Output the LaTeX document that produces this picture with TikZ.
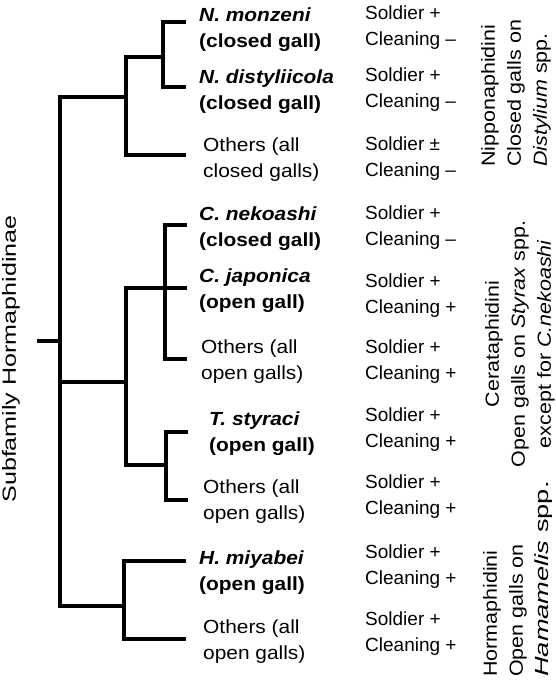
\documentclass[tikz,border=0pt]{standalone}
\usepackage{fontspec}
\usepackage{graphicx}
\setmainfont{Liberation Sans}
\newfontfamily\taxonfont{Liberation Sans}[FakeStretch=1.1]
\newfontfamily\tribefont{Liberation Sans}[FakeStretch=1.13]
\newfontfamily\familyfont{Liberation Sans}[FakeStretch=1.32]

\begin{document}
\begin{tikzpicture}[x=1pt, y=-1pt,
    branch/.style={line width=4pt, line join=miter},
    taxon/.style={anchor=west, align=left, inner sep=0pt,
                  font=\taxonfont\fontsize{19}{26}\selectfont},
    trait/.style={anchor=west, align=left, inner sep=0pt,
                  font=\fontsize{19}{26}\selectfont},
    tribe/.style={rotate=90, inner sep=0pt,
                  font=\tribefont\fontsize{19}{26}\selectfont}]
  \useasboundingbox (0,0) rectangle (556,685);

  % subfamily label
  \node[rotate=90, inner sep=0pt, font=\familyfont\fontsize{19}{26}\selectfont]
    (fam) at (11,359) {Subfamily Hormaphidinae};

  % taxa
  \node[taxon] (mon) at (199,30) {\textbf{\textit{N. monzeni}}\\\textbf{(closed gall)}};
  \node[taxon] (dis) at (199,92) {\textbf{\textit{N. distyliicola}}\\\textbf{(closed gall)}};
  \node[taxon] (oth1) at (203,160) {Others (all\\closed galls)};
  \node[taxon] (nek) at (199,229) {\textbf{\textit{C. nekoashi}}\\\textbf{(closed gall)}};
  \node[taxon] (jap) at (199,291) {\textbf{\textit{C. japonica}}\\\textbf{(open gall)}};
  \node[taxon] (oth2) at (201,362) {Others (all\\open galls)};
  \node[taxon] (sty) at (209,434) {\textbf{\textit{T. styraci}}\\\textbf{(open gall)}};
  \node[taxon] (oth3) at (203,502) {Others (all\\open galls)};
  \node[taxon] (miy) at (199,573) {\textbf{\textit{H. miyabei}}\\\textbf{(open gall)}};
  \node[taxon] (oth4) at (203,642) {Others (all\\open galls)};

  % soldier and cleaning states
  \foreach \y/\s/\c [count=\i] in {28/+/–, 90/+/–, 159/±/–, 228/+/–, 296/+/+,
                                   362/+/+, 430/+/+, 497/+/+, 567/+/+, 634/+/+}
    \node[trait] (tr\i) at (365,\y) {Soldier \s\\Cleaning \c};

  % tribes
  \node[tribe, anchor=west, align=left] (nip) at (516,167)
    {Nipponaphidini\\Closed galls on\\\textit{Distylium} spp.};
  \node[tribe, align=center] (cer) at (520,344)
    {Cerataphidini\\Open galls on \textit{Styrax} spp.\\except for \textit{C.nekoashi}};
  \node[tribe, anchor=west, align=left] (hor) at (518,677)
    {Hormaphidini\\Open galls on\\\scalebox{1.27}[1]{\textit{Hamamelis} spp.}};

  % leaf tips
  \coordinate (L1) at (186,22);
  \coordinate (L2) at (186,87);
  \coordinate (L3) at (186,155);
  \coordinate (L4) at (187,225);
  \coordinate (L5) at (187,288);
  \coordinate (L6) at (187,359);
  \coordinate (L7) at (188,432);
  \coordinate (L8) at (188,500);
  \coordinate (L9) at (186,561);
  \coordinate (L10) at (186,639);

  % junctions
  \coordinate (R0) at (37,341);
  \coordinate (root) at (60,341);
  \coordinate (J1) at (126,97);
  \coordinate (J2) at (163,57);
  \coordinate (J3) at (126,382);
  \coordinate (J4) at (165,288);
  \coordinate (J5) at (166,465);
  \coordinate (J6) at (124,606);

  % Nipponaphidini
  \draw[branch] (L1) -| (J2) |- (L2);
  \draw[branch] (J2) -| (J1) |- (L3);
  \draw[branch] (J1) -| (root);

  % Cerataphidini
  \draw[branch] (L4) -| (J4) |- (L6);
  \draw[branch] (L5) -| (J3) |- (J5);
  \draw[branch] (L7) -| (J5) |- (L8);
  \draw[branch] (J3) -| (root);

  % Hormaphidini
  \draw[branch] (L9) -| (J6) |- (L10);
  \draw[branch] (J6) -| (root);

  % root
  \draw[branch] (root) -- (R0);
\end{tikzpicture}
\end{document}
